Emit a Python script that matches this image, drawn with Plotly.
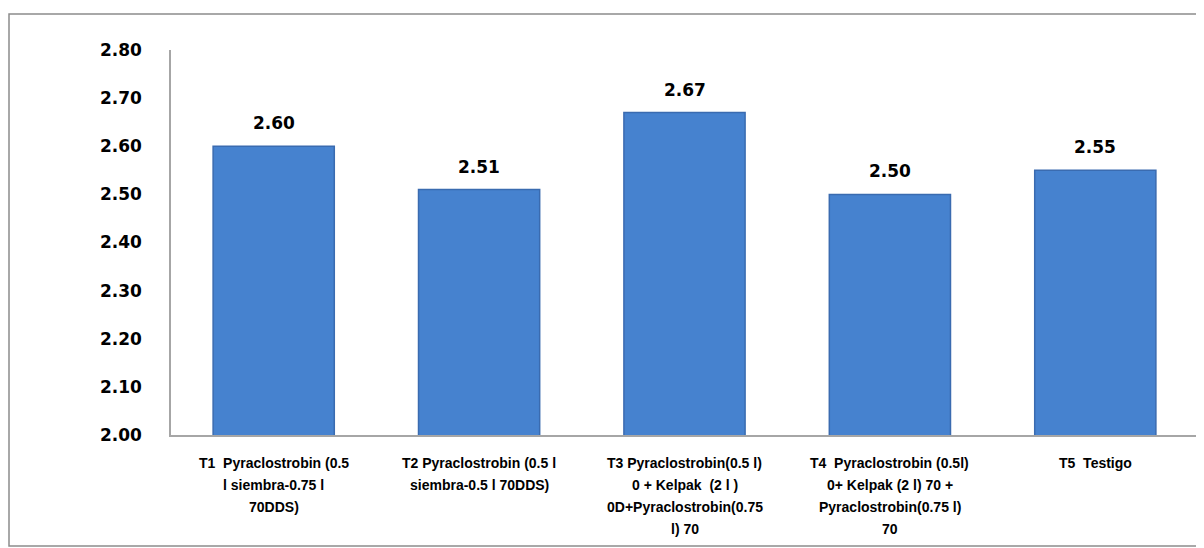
import plotly.graph_objects as go

categories = [
    "T1  Pyraclostrobin (0.5<br>l siembra-0.75 l<br>70DDS)",
    "T2 Pyraclostrobin (0.5 l<br>siembra-0.5 l 70DDS)",
    "T3 Pyraclostrobin(0.5 l)<br>0 + Kelpak  (2 l )<br>0D+Pyraclostrobin(0.75<br>l) 70",
    "T4  Pyraclostrobin (0.5l)<br>0+ Kelpak (2 l) 70 +<br>Pyraclostrobin(0.75 l)<br>70",
    "T5  Testigo",
]
values = [2.60, 2.51, 2.67, 2.50, 2.55]
value_labels = ["2.60", "2.51", "2.67", "2.50", "2.55"]
y_ticks = [2.00, 2.10, 2.20, 2.30, 2.40, 2.50, 2.60, 2.70, 2.80]

fig = go.Figure()
fig.add_trace(go.Bar(
    x=categories,
    y=values,
    marker=dict(color="#4682CF", line=dict(color="#3A6BB0", width=1.5)),
    hoverinfo="skip",
))

# value labels above bars
for c, v, t in zip(categories, values, value_labels):
    fig.add_annotation(
        x=c, y=v, text=t, showarrow=False,
        xref="x", yref="y", yanchor="middle", yshift=23,
        font=dict(family="DejaVu Sans", size=17, color="#000000", weight="bold"),
    )

# category labels, one annotation per line (to match wide line spacing)
for c in categories:
    for i, line in enumerate(c.split("<br>")):
        fig.add_annotation(
            x=c, y=0, text=line.replace(" ", "\u00a0"), showarrow=False,
            xref="x", yref="paper", yanchor="middle", xanchor="center",
            yshift=-(28 + 22 * i),
            font=dict(family="Liberation Sans", size=14, color="#000000", weight="bold"),
        )

# page body has an 8px margin, so the figure sits at (8, 8)
OFF = 8
W, H = 1196, 540
L = 171 - OFF
T = 50 - OFF
R = OFF + W - 1198
B = OFF + H - 435
pw, ph = W - L - R, H - T - B

def px_x(x):
    return (x - OFF - L) / pw

def px_y(y):
    return (OFF + H - B - y) / ph

fig.update_layout(
    width=W, height=H,
    margin=dict(l=L, r=R, t=T, b=B),
    paper_bgcolor="#FFFFFF",
    plot_bgcolor="#FFFFFF",
    showlegend=False,
    bargap=0.41,
    shapes=[dict(
        type="rect", xref="paper", yref="paper",
        x0=px_x(9), x1=px_x(1215), y0=px_y(546), y1=px_y(14),
        line=dict(color="#8C8C8C", width=1.5), fillcolor="rgba(0,0,0,0)",
        layer="below",
    )],
)
fig.update_yaxes(
    range=[2.0, 2.8],
    tickvals=y_ticks,
    tickformat=".2f",
    showgrid=False,
    zeroline=False,
    showline=True,
    linecolor="#A6A6A6",
    linewidth=1.5,
    ticks="",
    ticklabelstandoff=24,
    tickfont=dict(family="DejaVu Sans", size=17, color="#000000", weight="bold"),
)
fig.update_xaxes(
    showgrid=False,
    showline=True,
    linecolor="#A6A6A6",
    linewidth=1.5,
    ticks="",
    showticklabels=False,
)

fig.write_html("out.html")
